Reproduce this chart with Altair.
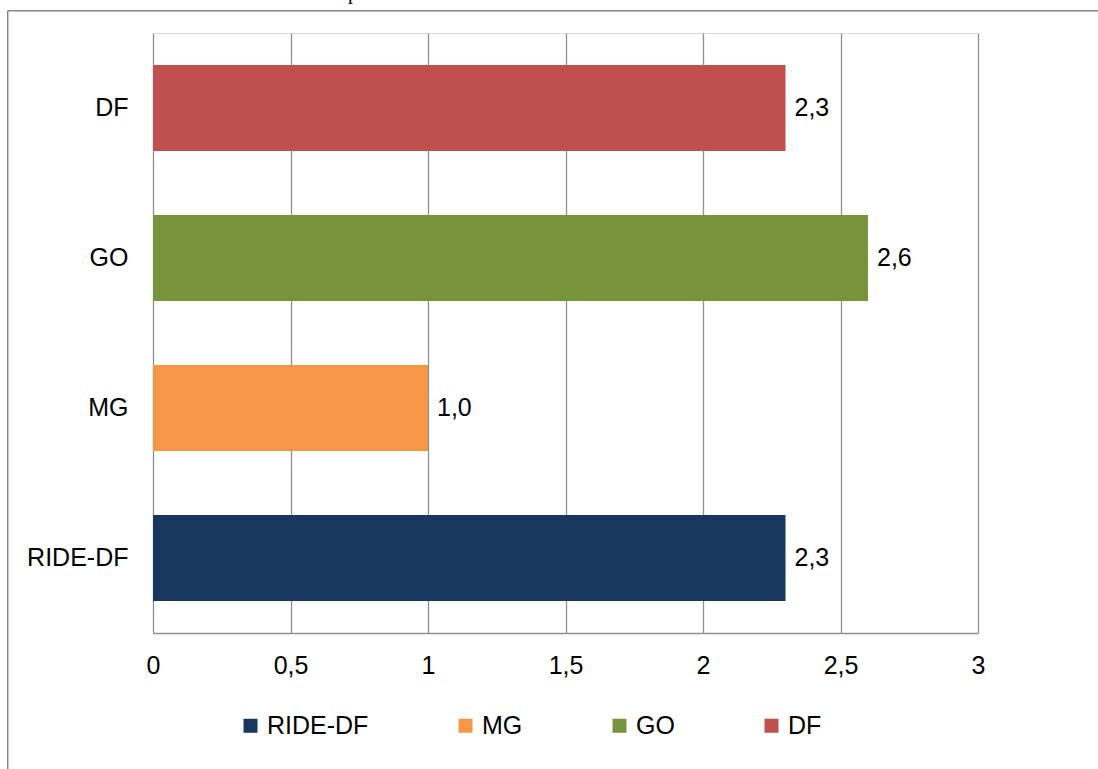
import altair as alt
import pandas as pd

categories = ["RIDE-DF", "MG", "GO", "DF"]
values = [2.3, 1.0, 2.6, 2.3]
colors = ["#17375E", "#F79646", "#77933C", "#C0504D"]
y_order = ["DF", "GO", "MG", "RIDE-DF"]
x_ticks = [0, 0.5, 1, 1.5, 2, 2.5, 3]

df = pd.DataFrame({"cat": categories, "value": values})
FONT = "Liberation Sans"

x_enc = alt.X("value:Q",
              scale=alt.Scale(domain=[0, 3], nice=False, zero=True),
              axis=alt.Axis(values=x_ticks, title=None, grid=True, gridColor="#8f8f8f",
                            gridWidth=1.3, domain=True, domainColor="#8f8f8f", domainWidth=1.3,
                            ticks=False, tickSize=0, labelPadding=20, labelFontSize=25,
                            labelFont=FONT, labelColor="#000000", labelFlush=False,
                            labelOverlap=False,
                            labelExpr="replace(format(datum.value, '~g'), '.', ',')"))
y_enc = alt.Y("cat:N", sort=y_order,
              scale=alt.Scale(paddingInner=0.427, paddingOuter=0.2135),
              axis=alt.Axis(title=None, domain=False, ticks=False, tickSize=0, grid=False,
                            labelPadding=25, labelFontSize=25, labelFont=FONT,
                            labelColor="#000000", labelAlign="right", labelBaseline="middle"))

bars = alt.Chart(df).mark_bar().encode(
    x=x_enc,
    y=y_enc,
    color=alt.Color("cat:N", scale=alt.Scale(domain=categories, range=colors),
                    legend=alt.Legend(title=None, orient="none", direction="horizontal",
                                      legendX=85, legendY=680, symbolType="square",
                                      symbolSize=196, symbolStrokeWidth=0,
                                      labelFontSize=25, labelFont=FONT, labelColor="#000000",
                                      labelOffset=4, columnPadding=84)),
)

labels = alt.Chart(df).mark_text(align="left", baseline="middle", dx=9, fontSize=25,
                                 font=FONT, color="#000000").encode(
    x=alt.X("value:Q"),
    y=alt.Y("cat:N", sort=y_order),
    text=alt.Text("lbl:N"),
).transform_calculate(lbl="replace(format(datum.value, '.1f'), '.', ',')")

one = alt.Data(values=[{}])
frame_left = alt.Chart(one).mark_rule(color="#868686", strokeWidth=1.5).encode(
    x=alt.value(-145.3), y=alt.value(-22.3), y2=alt.value(740))
frame_top = alt.Chart(one).mark_rule(color="#868686", strokeWidth=1.5).encode(
    x=alt.value(-145.3), x2=alt.value(950), y=alt.value(-22.3))
frag = alt.Chart(one).mark_text(text="p", font="Liberation Serif", fontSize=20,
                                align="center", baseline="alphabetic", color="#000000").encode(
    x=alt.value(200), y=alt.value(-34))

chart = alt.layer(frame_left, frame_top, frag, bars, labels).properties(
    width=825, height=600,
    padding={"left": 153, "top": 33, "right": 120, "bottom": 136},
    autosize=alt.AutoSizeParams(type="none"),
).configure_view(stroke=None).configure(background="#ffffff")

chart.save("out.html", embed_options={"renderer": "svg", "actions": False})
